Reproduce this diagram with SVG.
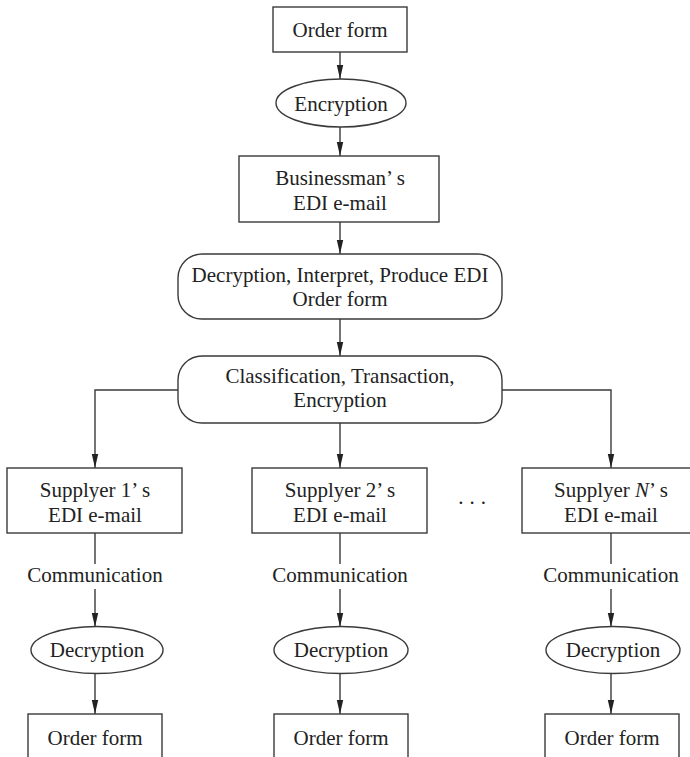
<svg xmlns="http://www.w3.org/2000/svg" width="690" height="757" viewBox="0 0 690 757">
  <style>
    .box { fill: #fff; stroke: #3a3a3a; stroke-width: 1.4; }
    .ln { fill: none; stroke: #3a3a3a; stroke-width: 1.4; }
    text { font-family: "Liberation Serif", "Times New Roman", Tinos, "DejaVu Serif", serif; font-size: 21px; fill: #222; text-anchor: middle; }
  </style>
  <defs>
    <marker id="ah" viewBox="0 0 14 8" refX="14" refY="4" markerWidth="14" markerHeight="8" markerUnits="userSpaceOnUse" orient="auto">
      <path d="M0,0.8 L14,4 L0,7.2 Z" fill="#222"/>
    </marker>
  </defs>

  <rect width="690" height="757" fill="#fff"/>

  <g id="connectors">
    <line class="ln" x1="340" y1="52" x2="340" y2="79" marker-end="url(#ah)"/>
    <line class="ln" x1="340" y1="127" x2="340" y2="156" marker-end="url(#ah)"/>
    <line class="ln" x1="340" y1="222" x2="340" y2="254" marker-end="url(#ah)"/>
    <line class="ln" x1="340" y1="319" x2="340" y2="356" marker-end="url(#ah)"/>
    <polyline class="ln" points="178,390 95,390 95,468" marker-end="url(#ah)"/>
    <line class="ln" x1="340" y1="423" x2="340" y2="468" marker-end="url(#ah)"/>
    <polyline class="ln" points="502,390 611,390 611,468" marker-end="url(#ah)"/>

    <line class="ln" x1="95" y1="533" x2="95" y2="564"/>
    <line class="ln" x1="95" y1="589" x2="95" y2="627" marker-end="url(#ah)"/>
    <line class="ln" x1="95" y1="674" x2="95" y2="714" marker-end="url(#ah)"/>

    <line class="ln" x1="340" y1="533" x2="340" y2="564"/>
    <line class="ln" x1="340" y1="589" x2="340" y2="627" marker-end="url(#ah)"/>
    <line class="ln" x1="340" y1="674" x2="340" y2="714" marker-end="url(#ah)"/>

    <line class="ln" x1="611" y1="533" x2="611" y2="564"/>
    <line class="ln" x1="611" y1="589" x2="611" y2="627" marker-end="url(#ah)"/>
    <line class="ln" x1="611" y1="674" x2="611" y2="714" marker-end="url(#ah)"/>
  </g>

  <g id="order-form">
    <rect class="box" x="273" y="7" width="134" height="45"/>
    <text x="340" y="37">Order form</text>
  </g>

  <g id="encryption">
    <ellipse class="box" cx="341" cy="103" rx="65" ry="24"/>
    <text x="341" y="111">Encryption</text>
  </g>

  <g id="businessman-mail">
    <rect class="box" x="239" y="156" width="200" height="66"/>
    <text x="340" y="185">Businessman’ s</text>
    <text x="340" y="210">EDI e-mail</text>
  </g>

  <g id="decrypt-interpret">
    <rect class="box" x="178" y="254" width="324" height="65" rx="24" ry="24"/>
    <text x="340" y="282">Decryption, Interpret, Produce EDI</text>
    <text x="340" y="306">Order form</text>
  </g>

  <g id="classification">
    <rect class="box" x="178" y="356" width="324" height="67" rx="24" ry="24"/>
    <text x="340" y="383">Classification, Transaction,</text>
    <text x="340" y="407">Encryption</text>
  </g>

  <g id="supplier-1">
    <rect class="box" x="7" y="468" width="175" height="65"/>
    <text x="95" y="497">Supplyer 1’ s</text>
    <text x="95" y="522">EDI e-mail</text>
  </g>
  <g id="supplier-2">
    <rect class="box" x="252" y="468" width="175" height="65"/>
    <text x="340" y="497">Supplyer 2’ s</text>
    <text x="340" y="522">EDI e-mail</text>
  </g>
  <g id="ellipsis">
    <text x="475" y="504" letter-spacing="6">...</text>
  </g>
  <g id="supplier-n">
    <rect class="box" x="522" y="468" width="178" height="65"/>
    <text x="611" y="497">Supplyer <tspan font-style="italic">N</tspan>’ s</text>
    <text x="611" y="522">EDI e-mail</text>
  </g>

  <g id="comm-1"><text x="95" y="582">Communication</text></g>
  <g id="comm-2"><text x="340" y="582">Communication</text></g>
  <g id="comm-n"><text x="611" y="582">Communication</text></g>

  <g id="decryption-1">
    <ellipse class="box" cx="97" cy="650" rx="66" ry="23.5"/>
    <text x="97" y="657">Decryption</text>
  </g>
  <g id="decryption-2">
    <ellipse class="box" cx="341" cy="650" rx="67" ry="23.5"/>
    <text x="341" y="657">Decryption</text>
  </g>
  <g id="decryption-n">
    <ellipse class="box" cx="613" cy="650" rx="67" ry="23.5"/>
    <text x="613" y="657">Decryption</text>
  </g>

  <g id="order-form-1">
    <rect class="box" x="28" y="714" width="134" height="60"/>
    <text x="95" y="745">Order form</text>
  </g>
  <g id="order-form-2">
    <rect class="box" x="274" y="714" width="134" height="60"/>
    <text x="341" y="745">Order form</text>
  </g>
  <g id="order-form-n">
    <rect class="box" x="545" y="714" width="134" height="60"/>
    <text x="612" y="745">Order form</text>
  </g>
</svg>
